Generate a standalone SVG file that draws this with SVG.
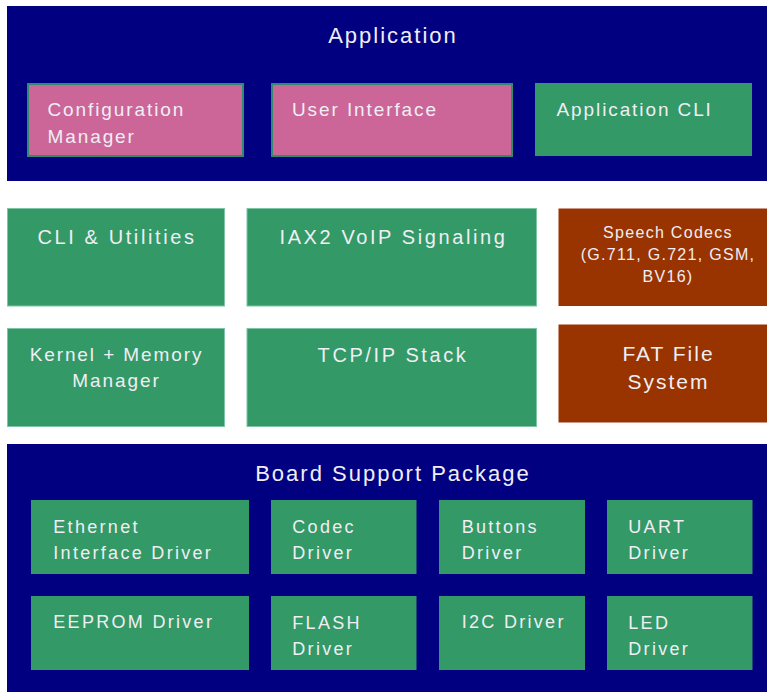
<svg xmlns="http://www.w3.org/2000/svg" width="767" height="692" viewBox="0 0 767 692">
<style>
  text { font-family: "Liberation Sans", Arial, sans-serif; fill: #f0eef4; }
  .navy { fill: #000080; }
  .green { fill: #339966; }
  .pink { fill: #cc6699; stroke: #2e8b6e; stroke-width: 2; }
  .brown { fill: #993300; }
  .mid { stroke: #7fc4a5; stroke-width: 1; }
  .t22 { font-size: 22px; letter-spacing: 2px; }
  .t20 { font-size: 20px; letter-spacing: 2.6px; }
  .t19 { font-size: 19px; letter-spacing: 1.9px; }
  .t18 { font-size: 18px; letter-spacing: 2.3px; }
  .t21 { font-size: 21px; letter-spacing: 2px; }
  .t16 { font-size: 16px; letter-spacing: 1.3px; }
  .c { text-anchor: middle; }
</style>
<g id="application">
  <rect class="navy" x="7" y="6" width="760" height="175"/>
  <text class="t22 c" x="393" y="42.5">Application</text>
</g>
<g id="config-manager">
  <rect class="pink" x="28" y="84" width="215" height="72"/>
  <text class="t19" x="47.5" y="115.5">Configuration</text>
  <text class="t19" x="47.5" y="142.5">Manager</text>
</g>
<g id="user-interface">
  <rect class="pink" x="272" y="84" width="240" height="72"/>
  <text class="t19" x="292" y="115.5">User Interface</text>
</g>
<g id="application-cli">
  <rect class="green" x="535" y="83" width="217" height="73"/>
  <text class="t19" x="556.5" y="115.5">Application CLI</text>
</g>
<g id="cli-utilities">
  <rect class="green mid" x="7.5" y="208.5" width="217" height="97.5"/>
  <text class="t20 c" x="117" y="243.5">CLI &amp; Utilities</text>
</g>
<g id="iax2">
  <rect class="green mid" x="247" y="208.5" width="289.5" height="97.5"/>
  <text class="t20 c" x="393.5" y="243.5">IAX2 VoIP Signaling</text>
</g>
<g id="speech-codecs">
  <rect class="brown" x="558.5" y="208.5" width="210" height="97.5"/>
  <text class="t16 c" x="668" y="238.3">Speech Codecs</text>
  <text class="t16 c" x="668" y="260">(G.711, G.721, GSM,</text>
  <text class="t16 c" x="668" y="281.7">BV16)</text>
</g>
<g id="kernel">
  <rect class="green mid" x="7.5" y="328.5" width="217" height="98"/>
  <text class="t19 c" x="116.5" y="360.7">Kernel + Memory</text>
  <text class="t19 c" x="116.5" y="386.7">Manager</text>
</g>
<g id="tcpip">
  <rect class="green mid" x="247" y="328.5" width="289.5" height="98"/>
  <text class="t20 c" x="393" y="361.7">TCP/IP Stack</text>
</g>
<g id="fat">
  <rect class="brown" x="558.5" y="324.5" width="210" height="98"/>
  <text class="t21 c" x="668.5" y="360.5">FAT File</text>
  <text class="t21 c" x="668.5" y="389.3">System</text>
</g>
<g id="bsp">
  <rect class="navy" x="7" y="444" width="760" height="248"/>
  <text class="t22 c" x="393" y="480.7">Board Support Package</text>
</g>
<g id="ethernet">
  <rect class="green" x="31" y="500" width="218" height="74"/>
  <text class="t18" x="53.3" y="532.7">Ethernet</text>
  <text class="t18" x="53.3" y="559">Interface Driver</text>
</g>
<g id="codec">
  <rect class="green" x="271" y="500" width="145.5" height="74"/>
  <text class="t18" x="292.3" y="532.7">Codec</text>
  <text class="t18" x="292.3" y="559">Driver</text>
</g>
<g id="buttons">
  <rect class="green" x="439" y="500" width="146" height="74"/>
  <text class="t18" x="461.7" y="532.7">Buttons</text>
  <text class="t18" x="461.7" y="559">Driver</text>
</g>
<g id="uart">
  <rect class="green" x="607" y="500" width="145.5" height="74"/>
  <text class="t18" x="628.3" y="532.7">UART</text>
  <text class="t18" x="628.3" y="559">Driver</text>
</g>
<g id="eeprom">
  <rect class="green" x="31" y="596" width="218" height="74"/>
  <text class="t18" x="53.3" y="628.3">EEPROM Driver</text>
</g>
<g id="flash">
  <rect class="green" x="271" y="596" width="145.5" height="74"/>
  <text class="t18" x="292.3" y="629.3">FLASH</text>
  <text class="t18" x="292.3" y="655">Driver</text>
</g>
<g id="i2c">
  <rect class="green" x="439" y="596" width="146" height="74"/>
  <text class="t18" x="461.7" y="628.3">I2C Driver</text>
</g>
<g id="led">
  <rect class="green" x="607" y="596" width="145.5" height="74"/>
  <text class="t18" x="628.3" y="629.3">LED</text>
  <text class="t18" x="628.3" y="655">Driver</text>
</g>
<g id="connectors"></g>
</svg>
